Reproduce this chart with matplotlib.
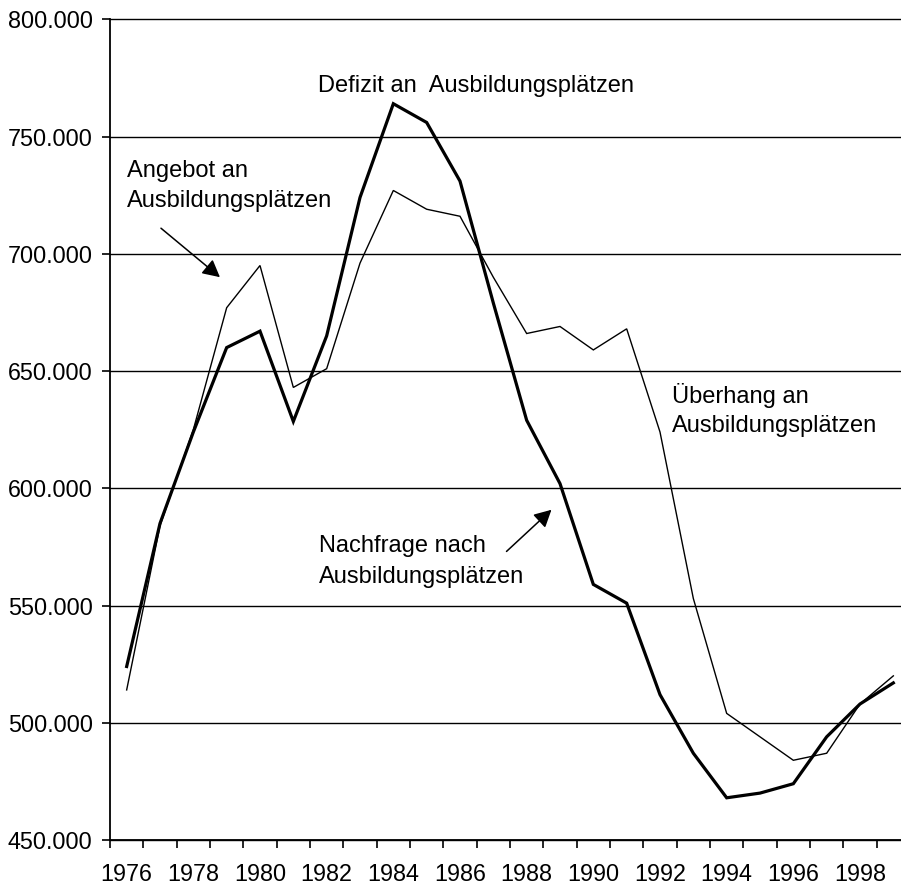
import matplotlib
matplotlib.use("Agg")
import matplotlib.pyplot as plt
from matplotlib.ticker import FuncFormatter, FixedLocator

plt.rcParams['font.family'] = ['Liberation Sans', 'DejaVu Sans']

years = list(range(1976, 2000))
angebot = [514000, 584000, 625000, 677000, 695000, 643000, 651000, 696000,
           727000, 719000, 716000, 690000, 666000, 669000, 659000, 668000,
           624000, 553000, 504000, 494000, 484000, 487000, 508000, 520000]
nachfrage = [524000, 585000, 624000, 660000, 667000, 628500, 665000, 724000,
             764000, 756000, 731000, 679000, 629000, 602000, 559000, 551000,
             512000, 487000, 468000, 470000, 474000, 494000, 508000, 517000]
yticks = [450000, 500000, 550000, 600000, 650000, 700000, 750000, 800000]

W, H = 901, 886
fig = plt.figure(figsize=(W / 100, H / 100), dpi=100)
ax = fig.add_axes([110 / W, (H - 840) / H, 800 / W, (840 - 19.3) / H])

x = list(range(len(years)))
ax.plot(x, angebot, color='black', lw=1.0, solid_joinstyle='miter', zorder=3)
ax.plot(x, nachfrage, color='black', lw=2.3, solid_joinstyle='miter', zorder=4)

ax.set_xlim(-0.5, len(years) - 0.5)
ax.set_ylim(450000, 800000)

ax.set_yticks(yticks)
ax.yaxis.set_major_formatter(FuncFormatter(lambda v, p: f"{int(v):,}".replace(',', '.')))
ax.yaxis.grid(True, color='black', lw=1.0)
for gl in ax.get_ygridlines():
    gl.set_clip_on(False)
ax.set_axisbelow(True)

ax.xaxis.set_major_locator(FixedLocator([i - 0.5 for i in range(len(years) + 1)]))
ax.xaxis.set_major_formatter(FuncFormatter(lambda v, p: ''))
lab_pos = [i for i in range(0, len(years), 2)]
ax.xaxis.set_minor_locator(FixedLocator(lab_pos))
ax.xaxis.set_minor_formatter(FuncFormatter(lambda v, p: str(years[int(round(v))])))
ax.tick_params(axis='x', which='major', length=5.5, width=1.2, direction='out')
ax.tick_params(axis='x', which='minor', length=0, pad=16.5, labelsize=16.8)
ax.tick_params(axis='y', which='major', length=5.5, width=1.2, direction='out', pad=7, labelsize=16.8)

for s in ['top', 'right']:
    ax.spines[s].set_visible(False)
for s in ['left', 'bottom']:
    ax.spines[s].set_linewidth(1.3)

fs = 17
ax.text(5.737, 769100, "Defizit an  Ausbildungsplätzen", fontsize=fs, va='baseline', ha='left')
ax.text(0.0, 732900, "Angebot an", fontsize=fs, va='baseline', ha='left')
ax.text(0.0, 719860, "Ausbildungsplätzen", fontsize=fs, va='baseline', ha='left')
ax.text(16.373, 636300, "Überhang an", fontsize=fs, va='baseline', ha='left')
ax.text(16.373, 624000, "Ausbildungsplätzen", fontsize=fs, va='baseline', ha='left')
ax.text(5.776, 572630, "Nachfrage nach", fontsize=fs, va='baseline', ha='left')
ax.text(5.776, 559590, "Ausbildungsplätzen", fontsize=fs, va='baseline', ha='left')

arrow = dict(arrowstyle='-|>,head_length=0.8,head_width=0.42', color='black', lw=1.1,
             mutation_scale=13, shrinkA=0, shrinkB=0)
ax.annotate('', xy=(2.798, 690025), xytext=(1.029, 710912), arrowprops=arrow)
ax.annotate('', xy=(12.744, 590834), xytext=(11.395, 573059), arrowprops=arrow)

fig.savefig('out.png', dpi=100)
